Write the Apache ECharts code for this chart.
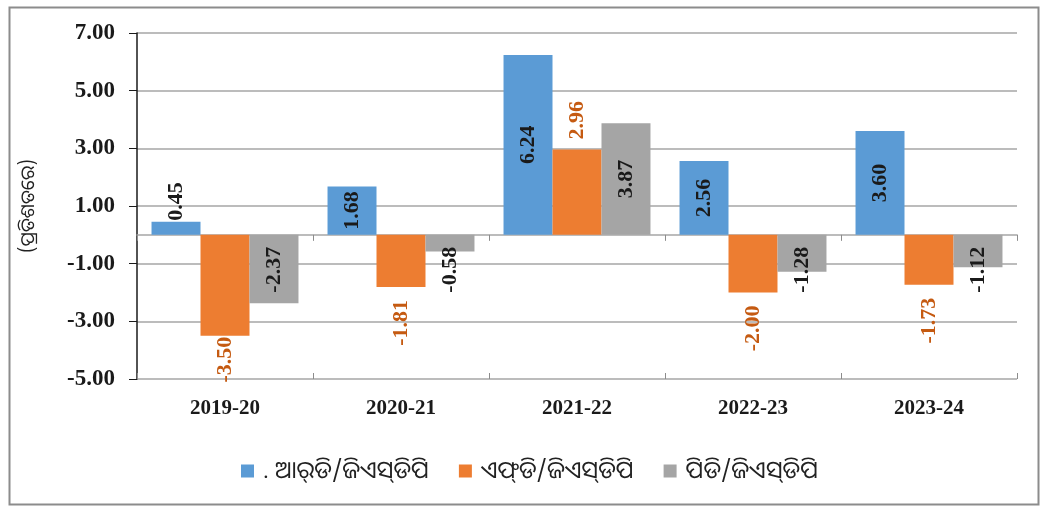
<!DOCTYPE html>
<html>
<head>
<meta charset="utf-8">
<script src="https://cdn.jsdelivr.net/npm/echarts@6/dist/echarts.min.js"></script>
<style>
html,body{margin:0;padding:0;background:#fff;}
#chart{width:1041px;height:507px;}
</style>
</head>
<body>
<div id="chart"></div>
<script>
// ---- data ----
var categories = ['2019-20', '2020-21', '2021-22', '2022-23', '2023-24'];
var seriesNames = ['. ଆର୍‌ଡି/ଜିଏସ୍‌ଡିପି', 'ଏଫ୍‌ଡି/ଜିଏସ୍‌ଡିପି', 'ପିଡି/ଜିଏସ୍‌ଡିପି'];
var rdGsdp = [0.45, 1.68, 6.24, 2.56, 3.60];
var fdGsdp = [-3.50, -1.81, 2.96, -2.00, -1.73];
var pdGsdp = [-2.37, -0.58, 3.87, -1.28, -1.12];
var yTicks = { min: -5, max: 7, interval: 2 };
var yAxisName = '(ପ୍ରତିଶତରେ)';

var serif = '"Liberation Serif", "Times New Roman", serif';
var odia = '"Noto Sans Oriya", "Noto Sans", "DejaVu Sans", sans-serif';
var colors = ['#5B9BD5', '#ED7D31', '#A5A5A5'];
var labelColors = ['#1a1a1a', '#C55A11', '#1a1a1a'];
var gridCfg = { left: 137, right: 24, top: 33, bottom: 128 };
var chartH = 507;

function baseLabel(color) {
  return {
    show: true, rotate: 90, fontFamily: serif, fontWeight: 'bold', fontSize: 22,
    color: color, formatter: function (p) { return p.value.toFixed(2); }
  };
}
// blue: centred, short bars labelled above
function blueData(vals) {
  return vals.map(function (v) {
    var l = Math.abs(v) < 1
      ? { position: 'top', distance: 1, align: 'left', verticalAlign: 'middle' }
      : { position: 'inside', align: 'center', verticalAlign: 'middle' };
    return { value: v, label: l };
  });
}
// orange: outside end; labels kept inside the plot when the bar nears the bottom
function orangeData(vals) {
  var unitPx = (chartH - gridCfg.top - gridCfg.bottom) / (yTicks.max - yTicks.min);
  return vals.map(function (v) {
    var room = (v - yTicks.min) * unitPx;
    var dist = v >= 0 ? 10 : (room < 60 ? 1 : 13);
    return { value: v, label: { position: 'outside', distance: dist,
      align: v >= 0 ? 'left' : 'right', verticalAlign: 'middle' } };
  });
}
// gray: centred for positives, near base for negatives
function grayData(vals) {
  return vals.map(function (v) {
    var l = v >= 0
      ? { position: 'inside', align: 'center', verticalAlign: 'middle' }
      : { position: 'insideTop', distance: 12, align: 'right', verticalAlign: 'middle' };
    return { value: v, label: l };
  });
}

var chart = echarts.init(document.getElementById('chart'));
chart.setOption({
  animation: false,
  backgroundColor: '#fff',
  graphic: [{
    type: 'rect', left: 7, top: 5, shape: { width: 1029, height: 497 },
    style: { fill: 'none', stroke: '#8c8c8c', lineWidth: 2 }, silent: true, z: -1
  }],
  legend: {
    left: 236, top: 454, itemWidth: 13, itemHeight: 13, itemGap: 30,
    icon: 'rect',
    textStyle: { fontFamily: odia, fontSize: 24, color: '#222', padding: [0, 0, 0, 4] },
    data: seriesNames
  },
  grid: gridCfg,
  xAxis: [
    { type: 'category', data: categories, position: 'bottom',
      axisLine: { show: false, onZero: false }, axisTick: { show: false },
      axisLabel: { margin: 19, fontFamily: serif, fontWeight: 'bold', fontSize: 21, color: '#1a1a1a' } },
    { type: 'category', data: categories, position: 'bottom',
      axisLine: { show: true, onZero: true, lineStyle: { color: '#A6A6A6', width: 1.5 } },
      axisTick: { show: true, inside: false, length: 6, lineStyle: { color: '#8c8c8c' } },
      axisLabel: { show: false } },
    { type: 'category', data: categories, position: 'bottom',
      axisLine: { show: false, onZero: true },
      axisTick: { show: true, inside: true, length: 6, lineStyle: { color: '#8c8c8c' } },
      axisLabel: { show: false } }
  ],
  yAxis: {
    type: 'value', min: yTicks.min, max: yTicks.max, interval: yTicks.interval,
    name: yAxisName, nameLocation: 'middle', nameGap: 99, nameRotate: 90,
    nameTextStyle: { fontFamily: odia, fontSize: 19, color: '#222' },
    axisLine: { show: true, lineStyle: { color: '#1a1a1a', width: 1.5 } },
    axisTick: { show: true, length: 8, lineStyle: { color: '#1a1a1a' } },
    axisLabel: { margin: 22, fontFamily: serif, fontWeight: 'bold', fontSize: 23, color: '#1a1a1a',
      formatter: function (v) { return v.toFixed(2); } },
    splitLine: { show: true, lineStyle: { color: '#A6A6A6', width: 1.5 } }
  },
  series: [
    { name: seriesNames[0], type: 'bar', xAxisIndex: 0, data: blueData(rdGsdp),
      itemStyle: { color: colors[0] }, label: baseLabel(labelColors[0]),
      barGap: '0%', barCategoryGap: '16.5%' },
    { name: seriesNames[1], type: 'bar', xAxisIndex: 0, data: orangeData(fdGsdp),
      itemStyle: { color: colors[1] }, label: baseLabel(labelColors[1]),
      barGap: '0%', barCategoryGap: '16.5%' },
    { name: seriesNames[2], type: 'bar', xAxisIndex: 0, data: grayData(pdGsdp),
      itemStyle: { color: colors[2] }, label: baseLabel(labelColors[2]),
      barGap: '0%', barCategoryGap: '16.5%' }
  ]
});
</script>
</body>
</html>
